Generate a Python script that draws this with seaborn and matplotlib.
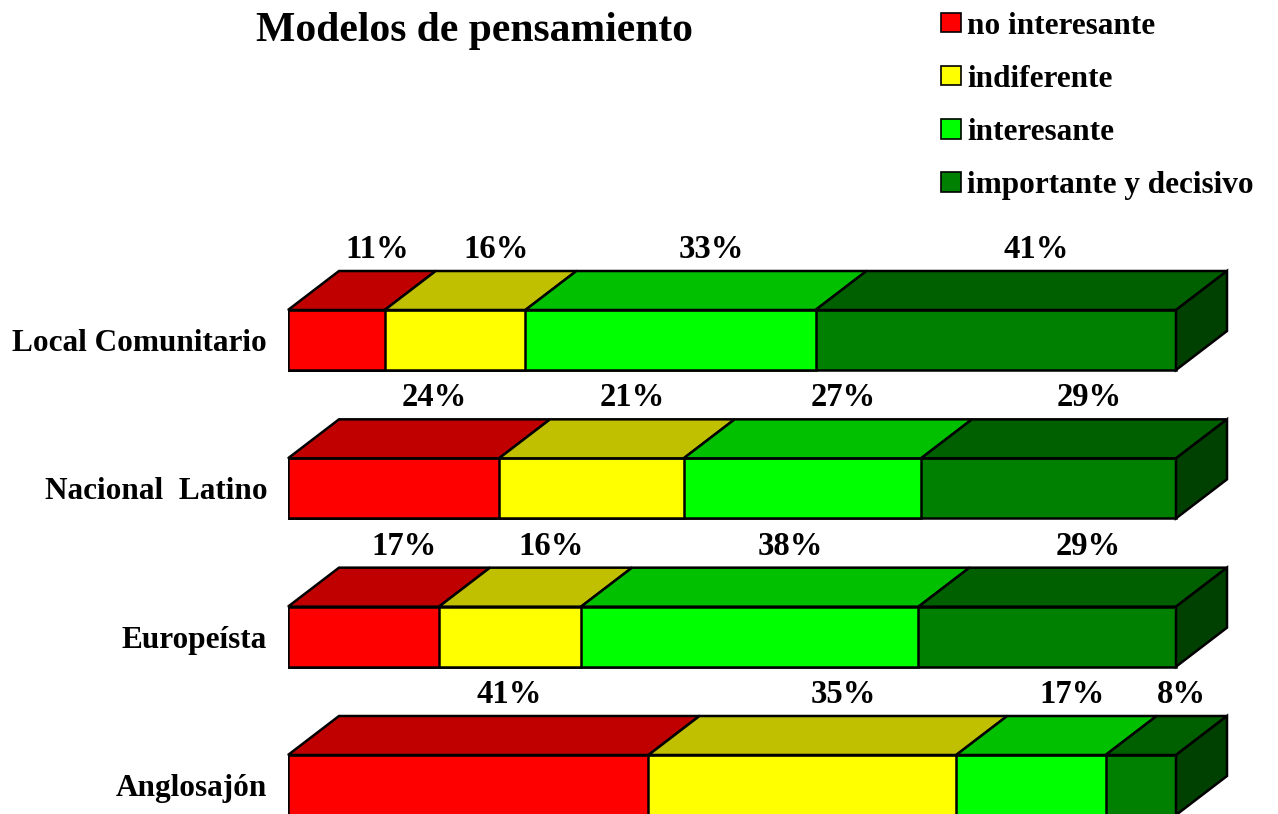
import numpy as np
import pandas as pd
import seaborn as sns
import matplotlib.pyplot as plt
from matplotlib.patches import Polygon, Patch

sns.set_style("white")
plt.rcParams['font.family'] = ['Liberation Serif', 'DejaVu Serif']
plt.rcParams['font.weight'] = 'bold'
plt.rcParams['text.color'] = 'black'
plt.rcParams['ytick.color'] = 'black'

categories = ["Local Comunitario", "Nacional  Latino", "Europeísta", "Anglosajón"]
levels = ["no interesante", "indiferente", "interesante", "importante y decisivo"]
no_interesante = [11, 24, 17, 41]
indiferente = [16, 21, 16, 35]
interesante = [33, 27, 38, 17]
importante = [41, 29, 29, 8]

front_colors = ["#FF0000", "#FFFF00", "#00FF00", "#008000"]
top_colors = ["#C00000", "#C0C000", "#00C000", "#006000"]
side_color = "#004000"

df = pd.DataFrame({levels[0]: no_interesante, levels[1]: indiferente,
                   levels[2]: interesante, levels[3]: importante}, index=categories)
share = df.div(df.sum(axis=1), axis=0)
cum = share.cumsum(axis=1)

W, H = 1278, 814
fig = plt.figure(figsize=(W / 100, H / 100), dpi=100)
# axes: x 0..1 -> pixels 288..1176, rows centred at 340 .. 785 px
ax = fig.add_axes([288 / W, 0, (W - 288) / W, 614 / H])
row_px = (785 - 340) / 3
bar_h = 60 / row_px
dx = 51 / 888
dy = 39 / row_px

# front faces: cumulative bars drawn from the widest to the narrowest
for k in range(len(levels) - 1, -1, -1):
    sns.barplot(x=cum[levels[k]].values, y=categories, orient="h", color=front_colors[k],
                width=bar_h, edgecolor="black", linewidth=1.8, saturation=1, ax=ax)

for i, cat in enumerate(categories):
    y_top = i - bar_h / 2
    y_bot = i + bar_h / 2
    left = 0.0
    for k, lev in enumerate(levels):
        right = cum.loc[cat, lev]
        ax.add_patch(Polygon([(left, y_top), (right, y_top), (right + dx, y_top - dy),
                              (left + dx, y_top - dy)], closed=True, facecolor=top_colors[k],
                             edgecolor="black", linewidth=1.8, clip_on=False))
        ax.text((left + right) / 2 + 0.8 * dx, y_top - dy - 13 / row_px, f"{df.loc[cat, lev]}%",
                ha="center", va="baseline", fontsize=23.5, fontweight="bold")
        left = right
    ax.add_patch(Polygon([(1, y_top), (1 + dx, y_top - dy), (1 + dx, y_bot - dy), (1, y_bot)],
                         closed=True, facecolor=side_color, edgecolor="black", linewidth=1.8,
                         clip_on=False))

ax.set_xlim(0, (W - 288) / 888)
ax.set_ylim(3 + (H - 785) / row_px, -(340 - 200) / row_px)
ax.set_xticks([])
ax.set_xlabel("")
ax.set_ylabel("")
ax.tick_params(axis="y", length=0, pad=15, labelsize=22.5)
for t in ax.get_yticklabels():
    t.set_fontweight("bold")
sns.despine(ax=ax, left=True, bottom=True)

fig.text(474 / W, 1 - 31 / H, "Modelos de pensamiento", ha="center", va="center",
         fontsize=30, fontweight="bold")

handles = [Patch(facecolor=c, edgecolor="black", linewidth=1.2) for c in front_colors]
fig.legend(handles, levels, loc="upper left", bbox_to_anchor=(928 / W, 1 + 1 / H),
           frameon=False, prop={"size": 22.5, "weight": "bold"}, handlelength=0.66,
           handleheight=0.6, handletextpad=0.2, labelspacing=0.77, borderaxespad=0)

fig.savefig("out.png", dpi=100)
